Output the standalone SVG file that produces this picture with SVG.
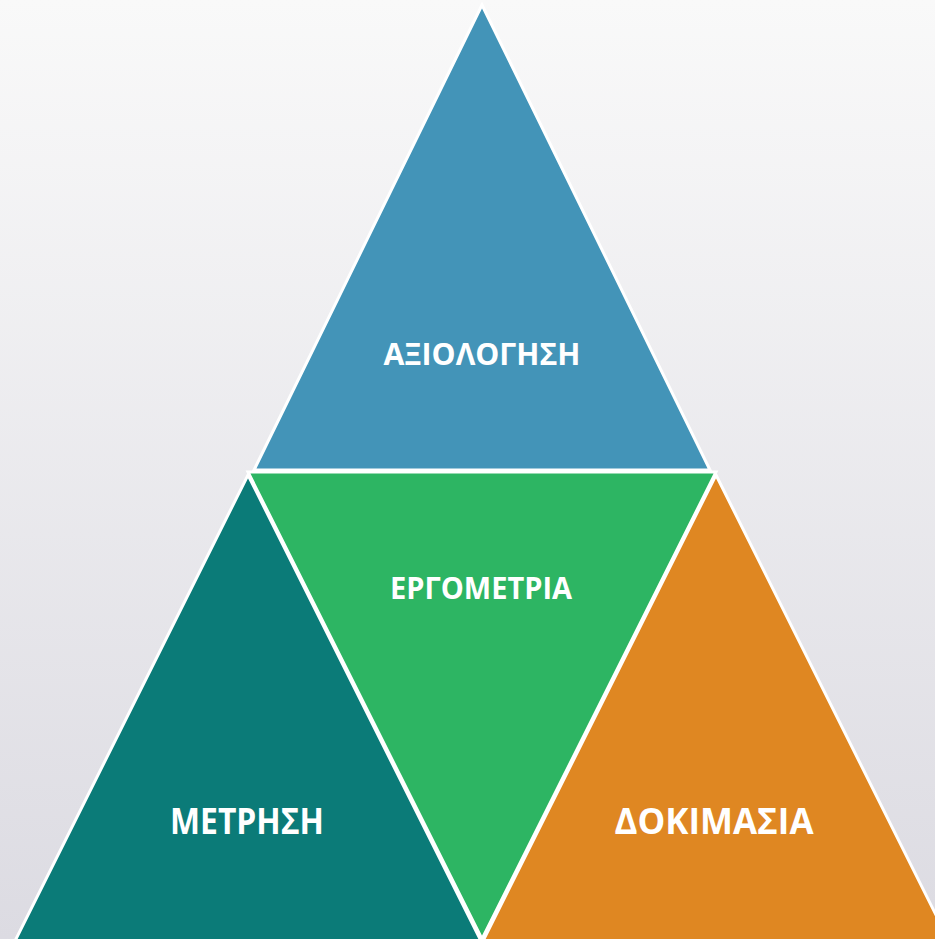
<svg xmlns="http://www.w3.org/2000/svg" width="935" height="939" viewBox="0 0 935 939">
<defs>
<linearGradient id="bg" x1="0" y1="0" x2="0" y2="1">
<stop offset="0" stop-color="#f9f9f9"/>
<stop offset="1" stop-color="#dcdbe2"/>
</linearGradient>
<style>
.tri{stroke:#ffffff;stroke-width:3;stroke-linejoin:miter}
.lbl{font-family:"Open Sans","DejaVu Sans",sans-serif;font-weight:bold;font-size:29.5px;fill:#ffffff;text-anchor:middle}
.big{font-size:35px}
</style>
</defs>
<rect width="935" height="939" fill="url(#bg)"/>
<g id="axiologisi">
<polygon class="tri" points="482,5 710,470 254,470" fill="#4394b8"/>
<text class="lbl" x="482" y="365" textLength="197" lengthAdjust="spacingAndGlyphs">ΑΞΙΟΛΟΓΗΣΗ</text>
</g>
<g id="metrisi">
<polygon class="tri" points="248,475 481,941 15,941" fill="#0b7b78"/>
<text class="lbl big" x="247" y="834" textLength="154" lengthAdjust="spacingAndGlyphs">ΜΕΤΡΗΣΗ</text>
</g>
<g id="ergometria">
<polygon class="tri" points="248,472 716,472 482,939" fill="#2db563"/>
<text class="lbl" x="481" y="599" textLength="182" lengthAdjust="spacingAndGlyphs">ΕΡΓΟΜΕΤΡΙΑ</text>
</g>
<g id="dokimasia">
<polygon class="tri" points="716,475 949,941 483,941" fill="#df8722"/>
<text class="lbl big" x="714" y="834" textLength="199" lengthAdjust="spacingAndGlyphs">ΔΟΚΙΜΑΣΙΑ</text>
</g>
<g id="connectors"/>
</svg>
